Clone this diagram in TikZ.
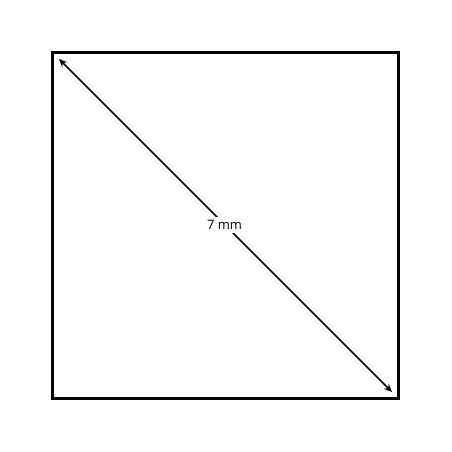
\documentclass[tikz,border=0pt]{standalone}
\usepackage{fontspec}
\setmainfont{Open Sans}
\usetikzlibrary{arrows.meta}
\begin{document}
\begin{tikzpicture}[x=1pt,y=-1pt,
  box/.style={draw=black,line width=2.4pt},
  dim/.style={line width=1.6pt,{Stealth[length=8pt,width=7pt]}-{Stealth[length=8pt,width=7pt]}},
  lbl/.style={fill=white,inner xsep=1pt,inner ysep=3pt,font=\fontsize{13}{15}\selectfont}]
\useasboundingbox (0,0) rectangle (452,452);
\node[box,minimum width=346pt,minimum height=346pt,inner sep=0pt] (sq) at (225.5,225.5) {};
\coordinate (a) at (59,59);
\coordinate (b) at (392,392);
\draw[dim] (a) -- (b);
\node[lbl] (t) at (224.5,225) {7 mm};
\end{tikzpicture}
\end{document}
